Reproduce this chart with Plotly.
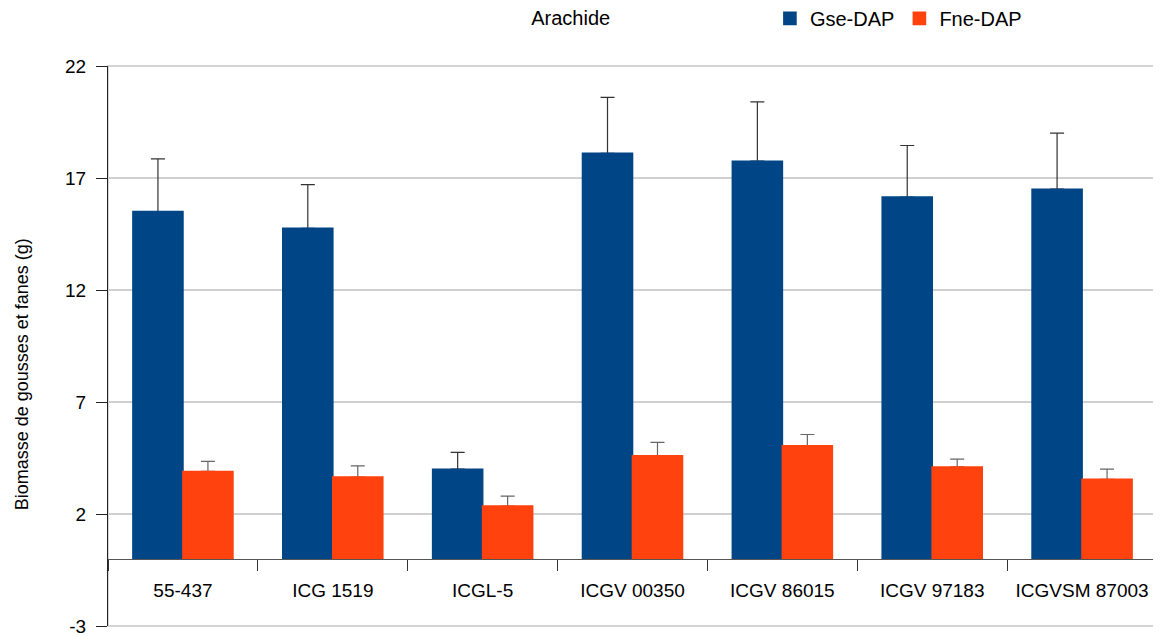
import plotly.graph_objects as go

categories = ["55-437", "ICG 1519", "ICGL-5", "ICGV 00350", "ICGV 86015", "ICGV 97183", "ICGVSM 87003"]
gse_values = [15.5, 14.75, 4.0, 18.1, 17.75, 16.15, 16.5]
gse_errors = [2.35, 1.95, 0.75, 2.5, 2.65, 2.3, 2.5]
fne_values = [3.9, 3.65, 2.35, 4.6, 5.05, 4.1, 3.55]
fne_errors = [0.45, 0.5, 0.45, 0.6, 0.5, 0.35, 0.45]
y_tick_values = [-3, 2, 7, 12, 17, 22]
y_tick_labels = ["-3", "2", "7", "12", "17", "22"]

FONT = "Liberation Sans, Arial, sans-serif"
BLUE = "#004586"
ORANGE = "#ff420e"

# page body has an 8px margin, so the figure is a bit smaller than the window
W, H = 1153, 629

fig = go.Figure()
# Bars carrying the error bars (drawn first, hidden underneath)
for name, vals, errs, col, ecol, grp in [
    ("Gse-DAP", gse_values, gse_errors, BLUE, "#333333", "g"),
    ("Fne-DAP", fne_values, fne_errors, ORANGE, "#666666", "f"),
]:
    fig.add_trace(go.Bar(
        name=name, x=categories, y=vals, offsetgroup=grp, showlegend=False,
        marker=dict(color=col, line=dict(width=0)),
        error_y=dict(type="data", array=errs, arrayminus=[0] * len(errs), symmetric=False,
                     color=ecol, thickness=1.2, width=7),
        hoverinfo="skip",
    ))
# Visible bars on top (hide the error-bar foot on the bar top)
for name, vals, col, grp in [
    ("Gse-DAP", gse_values, BLUE, "g"),
    ("Fne-DAP", fne_values, ORANGE, "f"),
]:
    fig.add_trace(go.Bar(
        name=name, x=categories, y=vals, offsetgroup=grp,
        marker=dict(color=col, line=dict(width=1.6, color=col)),
    ))

fig.update_layout(
    width=W, height=H,
    margin=dict(l=100, r=4, t=58, b=11, autoexpand=False),
    paper_bgcolor="white", plot_bgcolor="white",
    font=dict(family=FONT, size=19, color="black"),
    barmode="group", bargap=0.333, bargroupgap=0,
    title=dict(text="Arachide", x=0.488, xref="container", xanchor="center",
               y=1 - 10 / H, yref="container", yanchor="middle",
               font=dict(family=FONT, size=20, color="black")),
    legend=dict(orientation="h", x=0.631, xanchor="left", y=1.085, yanchor="middle",
                font=dict(family=FONT, size=20, color="black"), bgcolor="rgba(0,0,0,0)",
                traceorder="normal"),
    showlegend=True,
    xaxis=dict(
        type="category", anchor="free", position=0.12, automargin=False,
        showline=True, linecolor="#555555", linewidth=1,
        ticks="outside", tickson="boundaries", ticklen=11, tickcolor="#333333", tickwidth=1,
        showgrid=False, zeroline=False,
        tickfont=dict(family=FONT, size=19, color="black"),
        ticklabelstandoff=14,
    ),
    yaxis=dict(
        range=[-3, 22], tickvals=y_tick_values, ticktext=y_tick_labels, automargin=False,
        showline=True, linecolor="#222222", linewidth=1,
        ticks="outside", ticklen=11, tickcolor="#222222", tickwidth=1,
        showgrid=True, gridcolor="#d0d0d0", gridwidth=1.5,
        zeroline=False,
        tickfont=dict(family=FONT, size=19, color="black"),
        ticklabelstandoff=6,
    ),
    annotations=[dict(text="Biomasse de gousses et fanes (g)", textangle=-90,
                      xref="paper", yref="paper", x=-0.0817, y=0.45,
                      xanchor="center", yanchor="middle", showarrow=False,
                      font=dict(family=FONT, size=18, color="black"))],
    shapes=[dict(type="rect", xref="paper", yref="paper", x0=0, x1=1, y0=0, y1=1,
                 line=dict(color="#c8c8c8", width=1.5), layer="below")],
)

fig.write_html("out.html")
